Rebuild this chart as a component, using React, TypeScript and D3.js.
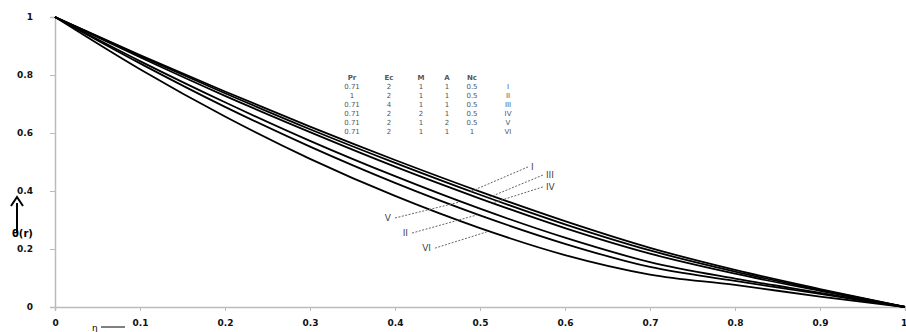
import React, { useEffect, useRef } from "react";
import * as d3 from "d3";

// eta positions and theta(r) values
const etaVals = [0, 0.1, 0.2, 0.3, 0.4, 0.5, 0.6, 0.7, 0.8, 0.9, 1];
const thetaI = [1, 0.869, 0.743, 0.622, 0.507, 0.398, 0.296, 0.204, 0.128, 0.062, 0];
const thetaII = [1, 0.84, 0.69, 0.553, 0.428, 0.316, 0.218, 0.138, 0.09, 0.045, 0];
const thetaIII = [1, 0.866, 0.737, 0.613, 0.497, 0.387, 0.285, 0.195, 0.122, 0.059, 0];
const thetaIV = [1, 0.861, 0.728, 0.603, 0.484, 0.374, 0.272, 0.184, 0.115, 0.056, 0];
const thetaV = [1, 0.848, 0.706, 0.573, 0.451, 0.339, 0.239, 0.155, 0.098, 0.049, 0];
const thetaVI = [1, 0.82, 0.657, 0.511, 0.383, 0.272, 0.179, 0.112, 0.076, 0.036, 0];

const seriesNames = ["I", "II", "III", "IV", "V", "VI"];
const seriesVals = [thetaI, thetaII, thetaIII, thetaIV, thetaV, thetaVI];

const xTicks = [0, 0.1, 0.2, 0.3, 0.4, 0.5, 0.6, 0.7, 0.8, 0.9, 1];
const yTicks = [0, 0.2, 0.4, 0.6, 0.8, 1];

// parameter table
const tableHeader = ["Pr", "Ec", "M", "A", "Nc", ""];
const tableRows = [
  ["0.71", "2", "1", "1", "0.5", "I"],
  ["1", "2", "1", "1", "0.5", "II"],
  ["0.71", "4", "1", "1", "0.5", "III"],
  ["0.71", "2", "2", "1", "0.5", "IV"],
  ["0.71", "2", "1", "2", "0.5", "V"],
  ["0.71", "2", "1", "1", "1", "VI"],
];

// pointer labels: text position and the spot on the curve (data units)
const pointerLabels = ["I", "III", "IV", "V", "II", "VI"];
const pointerFrom = [
  [0.5565, 0.483],
  [0.574, 0.455],
  [0.574, 0.414],
  [0.4, 0.307],
  [0.42, 0.255],
  [0.447, 0.203],
];
const pointerTo = [
  [0.488, 0.397],
  [0.509, 0.376],
  [0.515, 0.359],
  [0.476, 0.362],
  [0.496, 0.317],
  [0.508, 0.259],
];

const App = () => {
  const svgRef = useRef<SVGSVGElement>(null);

  useEffect(() => {
    const svg = d3.select(svgRef.current);
    svg.selectAll("*").remove();

    const W = 906;
    const H = 332;
    const margin = { top: 17, right: 1, bottom: 25, left: 55 };

    const x = d3.scaleLinear().domain([0, 1]).range([margin.left, W - margin.right]);
    const y = d3.scaleLinear().domain([0, 1]).range([H - margin.bottom, margin.top]);

    svg.append("rect").attr("width", W).attr("height", H).attr("fill", "#fff");

    // x axis
    const xAxis = svg
      .append("g")
      .attr("transform", `translate(0,${y(0)})`)
      .call(
        d3
          .axisBottom(x)
          .tickValues(xTicks)
          .tickSize(4)
          .tickPadding(9)
          .tickFormat((d) => d3.format("")(d as number))
      );
    xAxis.select(".domain").attr("stroke", "#bbb").attr("stroke-width", 1.5);
    xAxis.selectAll(".tick line").attr("stroke", "#bbb");
    xAxis
      .selectAll("text")
      .attr("fill", "#111")
      .style("font-family", "DejaVu Sans")
      .style("font-weight", "bold")
      .style("font-size", "9px");
    // last label sits on the right edge
    xAxis
      .selectAll<SVGTextElement, number>(".tick text")
      .filter((d) => d === 1)
      .attr("text-anchor", "end")
      .attr("dx", "0.2em");

    // y axis
    const yAxis = svg
      .append("g")
      .attr("transform", `translate(${x(0)},0)`)
      .call(
        d3
          .axisLeft(y)
          .tickValues(yTicks)
          .tickSize(5)
          .tickPadding(17)
          .tickFormat((d) => d3.format("")(d as number))
      );
    yAxis.select(".domain").attr("stroke", "#bbb").attr("stroke-width", 1.5);
    yAxis.selectAll(".tick line").attr("stroke", "#bbb");
    yAxis
      .selectAll("text")
      .attr("fill", "#111")
      .style("font-family", "DejaVu Sans")
      .style("font-weight", "bold")
      .style("font-size", "9px");

    // curves
    const line = d3
      .line<number>()
      .x((_, i) => x(etaVals[i]))
      .y((d) => y(d))
      .curve(d3.curveMonotoneX);

    seriesVals.forEach((vals, i) => {
      svg
        .append("path")
        .datum(vals)
        .attr("d", line)
        .attr("fill", "none")
        .attr("stroke", "#000")
        .attr("stroke-width", 1.8)
        .attr("data-name", seriesNames[i]);
    });

    // pointer lines and labels
    pointerLabels.forEach((lab, i) => {
      const [fx, fy] = pointerFrom[i];
      const [tx, ty] = pointerTo[i];
      svg
        .append("line")
        .attr("x1", x(fx))
        .attr("y1", y(fy))
        .attr("x2", x(tx))
        .attr("y2", y(ty))
        .attr("stroke", "#666")
        .attr("stroke-width", 1)
        .attr("stroke-dasharray", "2,1.5");
      const right = fx > tx;
      svg
        .append("text")
        .attr("x", x(fx) + (right ? 3 : -4))
        .attr("y", y(fy) + 3)
        .attr("text-anchor", right ? "start" : "end")
        .attr("fill", "#444")
        .style("font-family", "DejaVu Sans")
        .style("font-size", "9px")
        .text(lab);
    });

    // parameter table
    const colX = [352, 389, 421, 447, 472, 508];
    const rowY0 = 80;
    const rowStep = 9;
    [tableHeader, ...tableRows].forEach((row, r) => {
      row.forEach((cell, c) => {
        svg
          .append("text")
          .attr("x", colX[c])
          .attr("y", rowY0 + r * rowStep)
          .attr("text-anchor", "middle")
          .attr("fill", "#555")
          .style("font-family", "DejaVu Sans")
          .style("font-weight", r === 0 ? "bold" : "normal")
          .style("font-size", "7px")
          .text(cell);
      });
    });

    // y axis title with arrow
    svg
      .append("line")
      .attr("x1", 17)
      .attr("y1", 232)
      .attr("x2", 17)
      .attr("y2", 203)
      .attr("stroke", "#000")
      .attr("stroke-width", 2);
    svg
      .append("path")
      .attr("d", "M11,206 L17,197 L23,206")
      .attr("fill", "none")
      .attr("stroke", "#000")
      .attr("stroke-width", 2);
    svg
      .append("text")
      .attr("x", 12)
      .attr("y", 237)
      .attr("fill", "#000")
      .style("font-family", "DejaVu Sans")
      .style("font-weight", "bold")
      .style("font-size", "10px")
      .text("θ(r)");

    // x axis title with line
    svg
      .append("text")
      .attr("x", 92)
      .attr("y", 331)
      .attr("fill", "#000")
      .style("font-family", "DejaVu Sans")
      .style("font-size", "9px")
      .text("η");
    svg
      .append("line")
      .attr("x1", 101)
      .attr("y1", 327)
      .attr("x2", 125)
      .attr("y2", 327)
      .attr("stroke", "#000")
      .attr("stroke-width", 1);
  }, []);

  return (
    <svg
      ref={svgRef}
      width={906}
      height={332}
      style={{ position: "absolute", left: 0, top: 0 }}
    ></svg>
  );
};

export default App;
